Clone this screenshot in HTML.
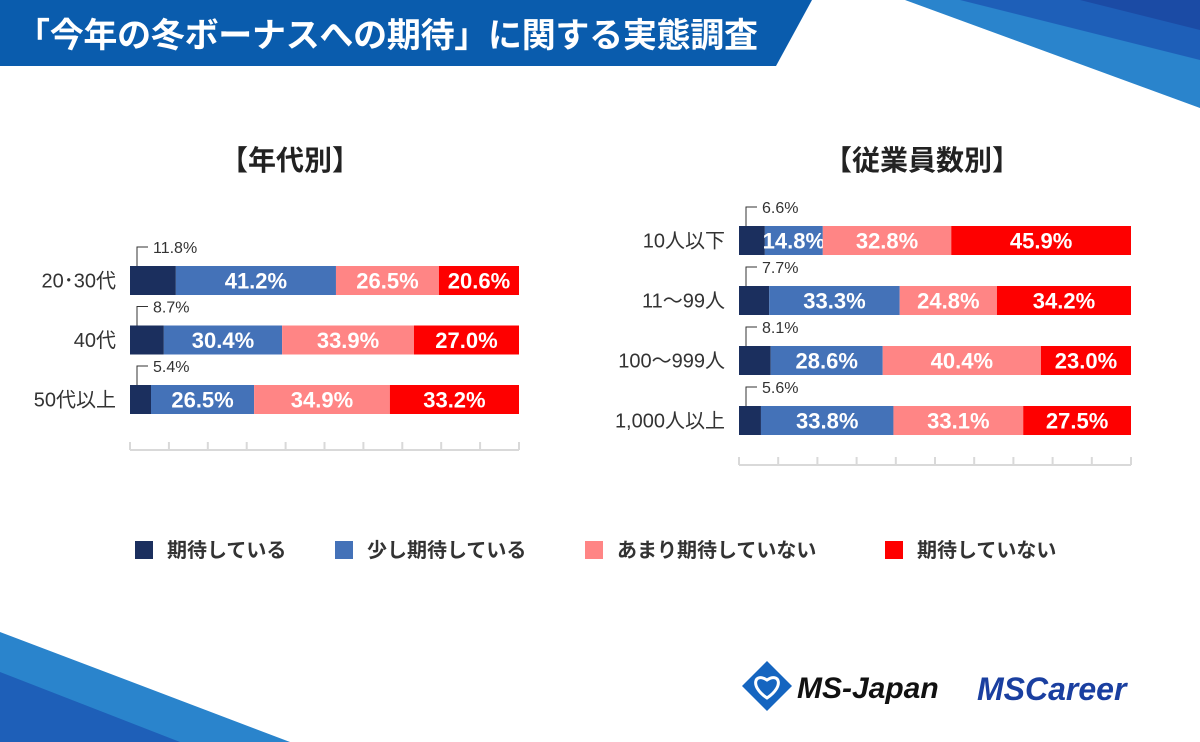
<!DOCTYPE html>
<html><head><meta charset="utf-8"><style>
body{margin:0;width:1200px;height:742px;overflow:hidden;background:#fff;font-family:"Liberation Sans","Noto Sans CJK JP",sans-serif}
svg{display:block}
</style></head><body>
<svg width="1200" height="742" id="svg">
<g>
<polygon points="0,0 812,0 776,66 0,66" fill="#0a5cad"/>
<polygon points="905,0 1200,0 1200,108" fill="#2a84cc"/>
<polygon points="960,0 1200,0 1200,60" fill="#1e5fb8"/>
<polygon points="1080,0 1200,0 1200,30" fill="#1b4ba5"/>
<polygon points="0,632 290,742 0,742" fill="#2a84cc"/>
<polygon points="0,672 180,742 0,742" fill="#1e5fb8"/>
</g>
<text x="16" y="47" font-size="34" font-weight="bold" fill="#fff" textLength="742">「今年の冬ボーナスへの期待」に関する実態調査</text>
<text x="290" y="170" text-anchor="middle" font-size="28" font-weight="bold" fill="#222">【年代別】</text>
<text x="922" y="170" text-anchor="middle" font-size="28" font-weight="bold" fill="#222">【従業員数別】</text>
<g id="left"></g>
<g id="right"></g>
<g id="legend"></g>
<g>
<g transform="translate(767,686)">
<polygon points="0,-25 25,0 0,25 -25,0" fill="#1565c0"/>
<path d="M0,12 C-18,0 -12,-14 0,-6 C12,-14 18,0 0,12Z" fill="none" stroke="#fff" stroke-width="3"/>
</g>
<text x="797" y="698" font-size="30" font-weight="bold" font-style="italic" fill="#111">MS-Japan</text>
<text x="977" y="700" font-size="32" font-weight="bold" font-style="italic" fill="#1a3fa0">MSCareer</text>
</g>
</svg>
<script>
const colors=["#1b2f5e","#4472b8","#ff8585","#fe0000"];
const legendLabels=["期待している","少し期待している","あまり期待していない","期待していない"];
const ageCategories=["20･30代","40代","50代以上"];
const ageExpect=[11.8,8.7,5.4];
const ageSomewhat=[41.2,30.4,26.5];
const ageNotMuch=[26.5,33.9,34.9];
const ageNot=[20.6,27.0,33.2];
const sizeCategories=["10人以下","11～99人","100～999人","1,000人以上"];
const sizeExpect=[6.6,7.7,8.1,5.6];
const sizeSomewhat=[14.8,33.3,28.6,33.8];
const sizeNotMuch=[32.8,24.8,40.4,33.1];
const sizeNot=[45.9,34.2,23.0,27.5];
const NS="http://www.w3.org/2000/svg";
function mk(p,t,a){const e=document.createElementNS(NS,t);for(const k in a)e.setAttribute(k,a[k]);p.appendChild(e);return e;}
function chart(g,cats,series,x0,x1,y0,step,axisY){
  const bh=29;
  const sx=v=>x0+(x1-x0)*v/100;
  cats.forEach((c,i)=>{
    const y=y0+i*step;
    const lab=mk(g,'text',{x:x0-14,y:y+bh/2+7,'text-anchor':'end','font-size':20,fill:'#333'});
    lab.textContent=c;
    
    
    const vals=series.map(s=>s[i]);const tot=vals.reduce((a,b)=>a+b,0);
    let acc=0;
    vals.forEach((v,j)=>{
      const a=sx(acc/tot*100),b=sx((acc+v)/tot*100);acc+=v;
      const r=mk(g,'rect',{x:a,y:y,width:b-a,height:bh,fill:colors[j]});
      
      
      const t=mk(g,'text',{'font-size':j==0?16:22,fill:j==0?'#333':'#fff','font-weight':j==0?'normal':'bold'});
      t.textContent=v.toFixed(1)+'%';
      
      
      if(j==0){
        const lx=x0+7;
        mk(g,'path',{d:`M${lx},${y} V${y-19} H${lx+11}`,fill:'none',stroke:'#333','stroke-width':1});
        t.setAttribute('x',lx+16);t.setAttribute('y',y-13);
      }else{
        t.setAttribute('x',(a+b)/2);t.setAttribute('y',y+bh/2+8);t.setAttribute('text-anchor','middle');
      }
    });
  });
  mk(g,'line',{x1:x0,x2:x1,y1:axisY,y2:axisY,stroke:'#d9d9d9','stroke-width':2});
  for(let k=0;k<=10;k++){const x=sx(k*10);mk(g,'line',{x1:x,x2:x,y1:axisY-8,y2:axisY,stroke:'#d9d9d9','stroke-width':2});}
}
chart(document.getElementById('left'),ageCategories,[ageExpect,ageSomewhat,ageNotMuch,ageNot],130,519,266,59.5,450);
chart(document.getElementById('right'),sizeCategories,[sizeExpect,sizeSomewhat,sizeNotMuch,sizeNot],739,1131,226,60,465);
const lg=document.getElementById('legend');
const lx=[135,335,585,885];
legendLabels.forEach((l,i)=>{
  const r=mk(lg,'rect',{x:lx[i],y:541,width:18,height:18,fill:colors[i]});
  
  
  const t=mk(lg,'text',{x:lx[i]+32,y:557,'font-size':20,'font-weight':'bold',fill:'#333'});
  t.textContent=l;
  
  
});
</script>
</body></html>
